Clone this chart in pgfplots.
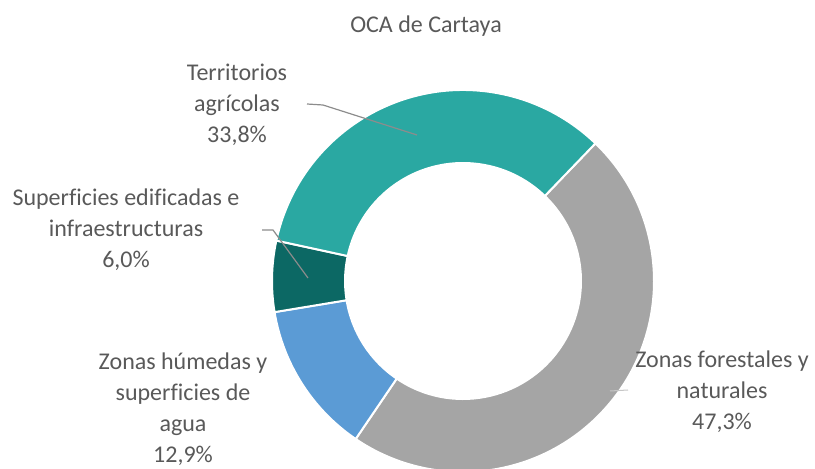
\documentclass[border=0pt]{standalone}
\usepackage{pgfplots}
\pgfplotsset{compat=1.18}
\usepackage{fontspec}
\setmainfont{Carlito}[Ligatures=NoCommon]
\usetikzlibrary{calc}
\definecolor{cGray}{RGB}{165,165,165}
\definecolor{cBlue}{RGB}{91,155,213}
\definecolor{cDark}{RGB}{12,104,100}
\definecolor{cTeal}{RGB}{42,168,162}
\definecolor{txt}{RGB}{89,89,89}
\definecolor{lead}{RGB}{140,140,140}
% data (percent): forestales, humedas, edificadas, agricolas
\def\vA{47.3}\def\vB{12.9}\def\vC{6.0}\def\vD{33.8}
\pgfmathsetmacro\aA{46.1}
\pgfmathsetmacro\aB{\aA-3.6*\vA}
\pgfmathsetmacro\aC{\aB-3.6*\vB}
\pgfmathsetmacro\aD{\aC-3.6*\vC}
\pgfmathsetmacro\aE{\aD-3.6*\vD}
\newcommand\sector[3]{% start, end, color
  \fill[#3, draw=white, line width=2bp]
    ($(C)+(#1:191bp)$) arc[start angle=#1, end angle=#2, radius=191bp]
    -- ($(C)+(#2:118bp)$) arc[start angle=#2, end angle=#1, radius=118bp] -- cycle;}
\begin{document}
\begin{tikzpicture}
\begin{axis}[name=ax,
  width=815bp, height=469bp, scale only axis,
  xmin=0, xmax=815, ymin=0, ymax=469,
  hide axis, clip=true]
\coordinate (C) at (axis cs:463,188);
\sector{\aA}{\aB}{cGray}
\sector{\aB}{\aC}{cBlue}
\sector{\aC}{\aD}{cDark}
\sector{\aD}{\aE}{cTeal}
% leader lines
\draw[lead, line width=1.2bp] (axis cs:307,365) -- (axis cs:323,364) -- (axis cs:417,334);
\draw[lead, line width=1.2bp] (axis cs:262,239) -- (axis cs:273,239) -- (axis cs:308,191);
\draw[lead!50, line width=1bp] (axis cs:610,78) -- (axis cs:628,79);
% title
\node[txt, anchor=base, font=\fontsize{24bp}{29bp}\selectfont] at (axis cs:426,436) {OCA de Cartaya};
% labels (anchor=base is the baseline of the last line)
\begin{scope}[every node/.style={txt, align=center, anchor=base, font=\fontsize{24bp}{31bp}\selectfont}]
\node at (axis cs:237,326) {Territorios\\agrícolas\\33,8\%};
\node at (axis cs:126,201) {Superficies edificadas e\\infraestructuras\\6,0\%};
\node at (axis cs:183,7) {Zonas húmedas y\\superficies de\\agua\\12,9\%};
\node at (axis cs:722,39) {Zonas forestales y\\naturales\\47,3\%};
\end{scope}
\end{axis}
\pgfresetboundingbox
\useasboundingbox (ax.south west) rectangle (ax.north east);
\end{tikzpicture}
\end{document}
